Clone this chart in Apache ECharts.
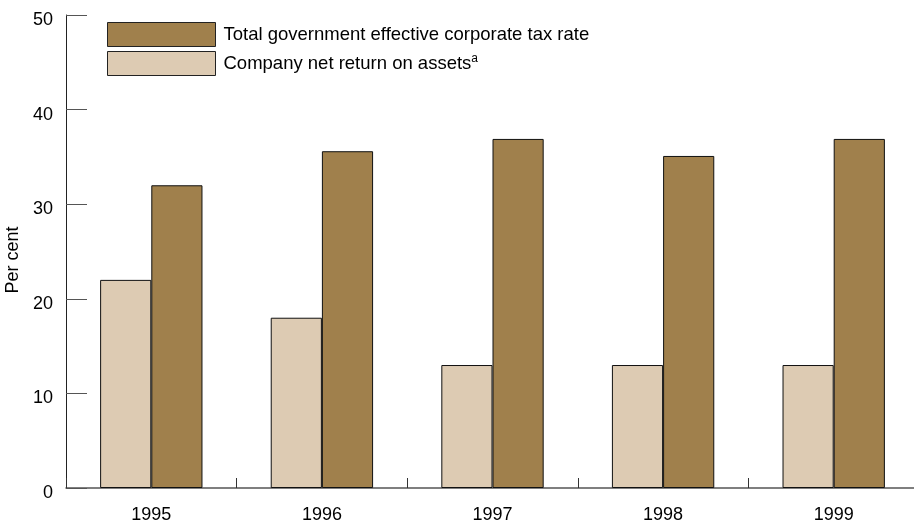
<!DOCTYPE html>
<html>
<head>
<meta charset="utf-8">
<script src="https://cdn.jsdelivr.net/npm/echarts@6/dist/echarts.min.js"></script>
<style>html,body{margin:0;padding:0;background:#fff}#c{width:914px;height:524px}</style>
</head>
<body>
<div id="c"></div>
<script>
var years = ['1995', '1996', '1997', '1998', '1999'];
var returnOnAssets = [22, 18, 13, 13, 13];
var taxRate = [32, 35.6, 36.9, 35.1, 36.9];
var yTicks = [0, 10, 20, 30, 40, 50];
var nameTax = 'Total government effective corporate tax rate';
var nameRoa = 'Company net return on assets';
var yTitle = 'Per cent';

var chart = echarts.init(document.getElementById('c'), null, {renderer: 'canvas'});
var font = 'Liberation Sans, Arial, sans-serif';
chart.setOption({
  animation: false,
  textStyle: {fontFamily: font},
  grid: {left: 66, top: 15, width: 853, height: 473, containLabel: false, outerBoundsMode: 'none'},
  legend: {
    data: [nameTax, nameRoa],
    orient: 'vertical',
    left: 102, top: 17,
    itemWidth: 108, itemHeight: 24, itemGap: 4,
    icon: 'rect',
    itemStyle: {borderColor: '#222', borderWidth: 1},
    selectedMode: false,
    textStyle: {
      fontFamily: font, fontSize: 18.5, color: '#000', padding: [0, 0, 0, 3],
      rich: {
        n: {fontFamily: font, fontSize: 18.5, color: '#000'},
        s: {fontFamily: font, fontSize: 12, color: '#000', verticalAlign: 'top', padding: [0, 0, 10, 0]}
      }
    },
    formatter: function (n) {
      return n === nameRoa ? '{n|' + n + '}{s|a}' : '{n|' + n + '}';
    }
  },
  graphic: [{
    type: 'text', x: 13, y: 260, rotation: Math.PI / 2,
    style: {text: yTitle, fontFamily: font, fontSize: 18, fill: '#000', align: 'center', verticalAlign: 'middle'}
  }],
  xAxis: {
    type: 'category',
    data: years,
    axisLine: {show: true, lineStyle: {color: '#555', width: 1.5}},
    axisTick: {show: true, interval: 0, inside: true, length: 10, lineStyle: {color: '#333', width: 1}},
    axisLabel: {color: '#000', fontSize: 18, margin: 18, fontFamily: font}
  },
  yAxis: {
    type: 'value',
    min: yTicks[0], max: yTicks[yTicks.length - 1], interval: 10,
    axisLine: {show: true, lineStyle: {color: '#222', width: 1}},
    axisTick: {show: true, inside: true, length: 21, lineStyle: {color: '#555'}},
    axisLabel: {color: '#000', fontSize: 18, margin: 13, fontFamily: font, verticalAlign: 'top', lineHeight: 10},
    splitLine: {show: false}
  },
  series: [
    {
      name: nameRoa, type: 'bar', data: returnOnAssets,
      barGap: '0%', barCategoryGap: '40%',
      itemStyle: {color: '#DDCBB3', borderColor: '#111', borderWidth: 1}
    },
    {
      name: nameTax, type: 'bar', data: taxRate,
      barGap: '0%', barCategoryGap: '40%',
      itemStyle: {color: '#A0804C', borderColor: '#111', borderWidth: 1}
    }
  ]
});
</script>
</body>
</html>
